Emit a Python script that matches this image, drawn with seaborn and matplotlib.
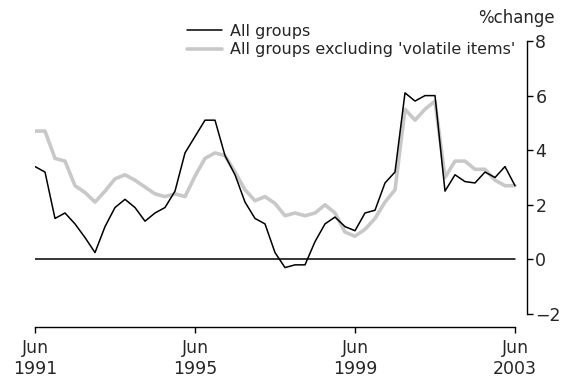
import numpy as np
import pandas as pd
import matplotlib
matplotlib.use('Agg')
import matplotlib.pyplot as plt
import seaborn as sns

# Trimestres de Jun 1991 a Jun 2003 (49 puntos)
quarters = list(range(49))
all_groups = [3.4, 3.2, 1.5, 1.7, 1.3, 0.8, 0.25, 1.2, 1.9, 2.2,
              1.9, 1.4, 1.7, 1.9, 2.5, 3.9, 4.5, 5.1, 5.1, 3.8,
              3.1, 2.1, 1.5, 1.3, 0.25, -0.3, -0.2, -0.2, 0.65, 1.3,
              1.55, 1.2, 1.05, 1.7, 1.8, 2.8, 3.2, 6.1, 5.8, 6.0,
              6.0, 2.5, 3.1, 2.85, 2.8, 3.2, 3.0, 3.4, 2.7]
excl_volatile = [4.7, 4.7, 3.7, 3.6, 2.7, 2.45, 2.1, 2.5, 2.95, 3.1,
                 2.9, 2.65, 2.4, 2.3, 2.4, 2.3, 3.05, 3.7, 3.9, 3.8,
                 3.2, 2.55, 2.15, 2.3, 2.05, 1.6, 1.7, 1.6, 1.7, 2.0,
                 1.7, 1.0, 0.85, 1.1, 1.5, 2.1, 2.55, 5.5, 5.1, 5.5,
                 5.8, 3.0, 3.6, 3.6, 3.3, 3.3, 2.9, 2.7, 2.7]
tick_pos = [0, 16, 32, 48]
tick_labels = ['Jun\n1991', 'Jun\n1995', 'Jun\n1999', 'Jun\n2003']
y_ticks = [-2, 0, 2, 4, 6, 8]

df = pd.DataFrame({'q': quarters, 'all': all_groups, 'excl': excl_volatile})

sns.set_style('white')
plt.rcParams['font.family'] = ['DejaVu Sans']

fig = plt.figure(figsize=(5.62, 3.83), dpi=100)
ax = fig.add_axes([35/562, 69/383, 492/562, 273/383])

sns.lineplot(x='q', y='excl', data=df, ax=ax, color='#c8c8c8', linewidth=2.6,
             label="All groups excluding 'volatile items'", zorder=2)
sns.lineplot(x='q', y='all', data=df, ax=ax, color='black', linewidth=1.1,
             label='All groups', zorder=3)
ax.plot([0, 48], [0, 0], color='black', linewidth=1.1, zorder=1)

ax.set_xlim(0, 49.2)
ax.set_ylim(-2, 8)
ax.set_xlabel('')
ax.set_ylabel('')

ax.spines['left'].set_visible(False)
ax.spines['top'].set_visible(False)
ax.spines['bottom'].set_position(('outward', 9))
ax.spines['bottom'].set_bounds(0, 48)
ax.spines['right'].set_bounds(-2, 8)
for s in ['bottom', 'right']:
    ax.spines[s].set_color('black')
    ax.spines[s].set_linewidth(1.0)

ax.set_xticks(tick_pos)
ax.set_xticklabels(tick_labels, fontsize=12.5, linespacing=1.2)
ax.yaxis.tick_right()
ax.set_yticks(y_ticks)
ax.set_yticklabels([str(v).replace('-', '\u2212') for v in y_ticks], fontsize=12.5)
ax.tick_params(axis='x', bottom=True, direction='out', length=4, width=1.0, color='black', pad=5)
ax.tick_params(axis='y', right=True, left=False, direction='out', length=4, width=1.0,
               color='black', pad=2)

handles, labels = ax.get_legend_handles_labels()
ax.legend(handles[::-1], labels[::-1], loc='upper left', bbox_to_anchor=(187/562, 1 - 24/383),
          bbox_transform=fig.transFigure, frameon=False, fontsize=11.5, handlelength=2.2,
          handletextpad=0.5, labelspacing=0.2, borderpad=0, borderaxespad=0)

fig.text(555/562, 1 - 18/383, '%change', ha='right', va='center', fontsize=12)

fig.savefig('out.png', dpi=100)
